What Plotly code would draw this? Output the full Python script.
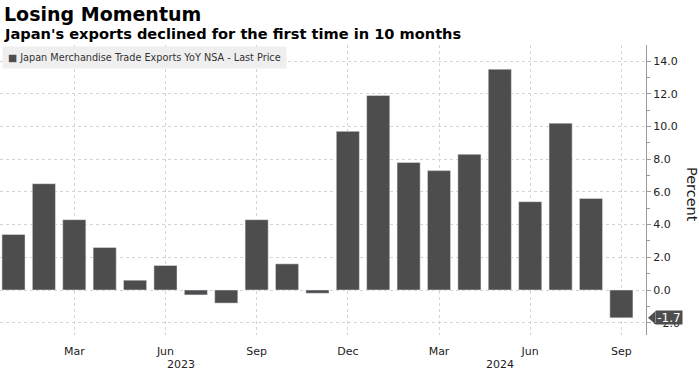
import plotly.graph_objects as go

# ---- data ----
months = ["2023-01", "2023-02", "2023-03", "2023-04", "2023-05", "2023-06",
          "2023-07", "2023-08", "2023-09", "2023-10", "2023-11", "2023-12",
          "2024-01", "2024-02", "2024-03", "2024-04", "2024-05", "2024-06",
          "2024-07", "2024-08", "2024-09"]
exports_yoy = [3.4, 6.5, 4.3, 2.6, 0.6, 1.5, -0.3, -0.8, 4.3, 1.6, -0.2, 9.7,
               11.9, 7.8, 7.3, 8.3, 13.5, 5.4, 10.2, 5.6, -1.7]
tick_months = ["2023-03", "2023-06", "2023-09", "2023-12", "2024-03", "2024-06", "2024-09"]
tick_labels = ["Mar", "Jun", "Sep", "Dec", "Mar", "Jun", "Sep"]
years = ["2023", "2024"]
y_ticks = [-2, 0, 2, 4, 6, 8, 10, 12, 14]
series_name = "Japan Merchandise Trade Exports YoY NSA - Last Price"
title = "Losing Momentum"
subtitle = "Japan's exports declined for the first time in 10 months"

BAR = "#4d4d4d"
FONT = "DejaVu Sans"

fig = go.Figure()
fig.add_trace(go.Bar(x=months, y=exports_yoy, marker_color=BAR, width=0.76,
                     name=series_name, showlegend=False))

fig.update_layout(
    width=699, height=373,
    margin=dict(l=0, r=53, t=45, b=38),
    paper_bgcolor="white", plot_bgcolor="white",
    font=dict(family=FONT, color="#222"),
    bargap=0.24,
)
fig.update_xaxes(
    type="category", categoryorder="array", categoryarray=months,
    range=[-0.444, 20.81],
    tickvals=tick_months, ticktext=tick_labels,
    showgrid=True, gridcolor="#d4d4d4", griddash="dot", gridwidth=1,
    ticks="", showline=False, zeroline=False,
    tickfont=dict(size=11, color="#222"), ticklabelstandoff=8,
)
fig.update_yaxes(
    side="right", range=[-2.75, 14.98],
    tickvals=y_ticks, tickformat=".1f",
    showgrid=True, gridcolor="#d4d4d4", griddash="dot", gridwidth=1,
    zeroline=False, showline=True, linecolor="#9a9a9a", linewidth=1,
    ticks="outside", ticklen=4, tickcolor="#9a9a9a",
    minor=dict(dtick=1, ticks="outside", ticklen=3, tickcolor="#9a9a9a", showgrid=False),
    tickfont=dict(size=11, color="#222"),
)

# year labels centred under each year's months
for yr in years:
    idx = [i for i, m in enumerate(months) if m.startswith(yr)]
    fig.add_annotation(x=sum(idx) / len(idx), y=-0.103, xref="x", yref="paper",
                       text=yr, showarrow=False, font=dict(size=11, color="#222"),
                       xanchor="center", yanchor="middle")

# titles
fig.add_annotation(x=0.003, y=1.107, xref="paper", yref="paper", text=f"<b>{title}</b>",
                   showarrow=False, xanchor="left", yanchor="middle",
                   font=dict(size=19, color="#000", family=FONT))
fig.add_annotation(x=0.003, y=1.041, xref="paper", yref="paper", text=f"<b>{subtitle}</b>",
                   showarrow=False, xanchor="left", yanchor="middle",
                   font=dict(size=14.6, color="#000", family=FONT))

# legend box
fig.add_annotation(x=0.003, y=0.9586, xref="paper", yref="paper",
                   text=f'<span style="color:{BAR}">■</span> {series_name}',
                   showarrow=False, xanchor="left", yanchor="middle",
                   bgcolor="#efefef", borderpad=5,
                   font=dict(size=9.7, color="#333", family=FONT))

# axis title
fig.add_annotation(x=1.0712, y=0.483, xref="paper", yref="paper", text="Percent",
                   textangle=90, showarrow=False, xanchor="center", yanchor="middle",
                   font=dict(size=14.5, color="#222"))

# last value tag
last = exports_yoy[-1]
fig.add_shape(type="path", xref="paper", yref="y",
              path=f"M 1.0031,{last} L 1.0145,{last + 0.4} L 1.0145,{last - 0.4} Z",
              fillcolor=BAR, line=dict(width=0))
fig.add_annotation(x=1.0139, y=last, xref="paper", yref="y", text=f"{last:.1f}",
                   showarrow=False, xanchor="left", yanchor="middle",
                   bgcolor=BAR, font=dict(size=12, color="white"),
                   width=26, height=13, borderpad=0)

fig.write_html("out.html", config={"displayModeBar": False},
               post_script="document.body.style.margin='0';")
